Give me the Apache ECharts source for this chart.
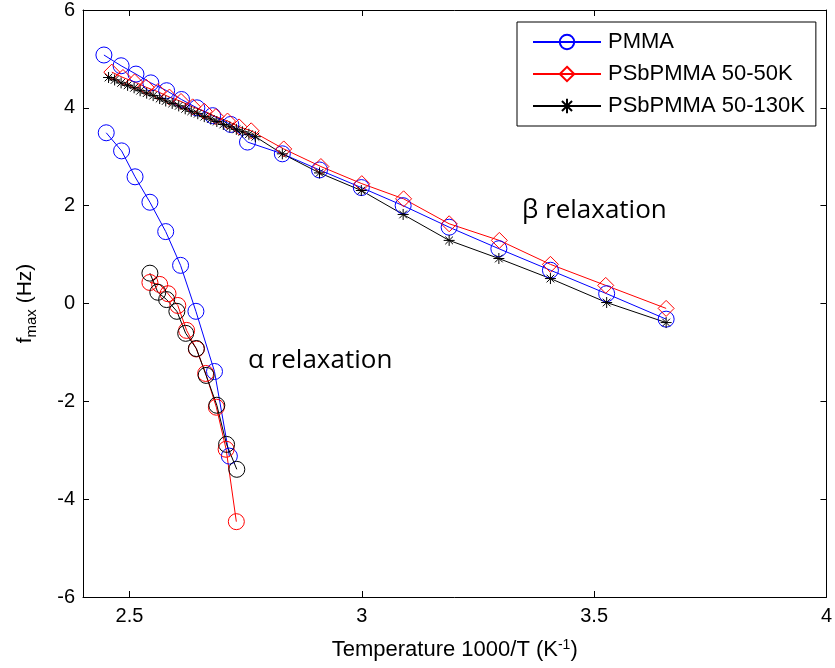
<!DOCTYPE html>
<html>
<head>
<meta charset="utf-8">
<script src="https://cdn.jsdelivr.net/npm/echarts@6/dist/echarts.min.js"></script>
<style>html,body{margin:0;padding:0;background:#fff;}#c{width:835px;height:668px;}</style>
</head>
<body>
<div id="c"></div>
<script>
// ---- data ----
const pmmaBetaX = [2.445, 2.482, 2.514, 2.546, 2.580, 2.612, 2.645, 2.679, 2.718, 2.754, 2.829, 2.909, 2.999, 3.089, 3.188, 3.295, 3.406, 3.527, 3.655];
const pmmaBetaY = [5.08, 4.86, 4.69, 4.51, 4.35, 4.17, 4.00, 3.84, 3.66, 3.30, 3.06, 2.73, 2.37, 2.00, 1.56, 1.12, 0.68, 0.20, -0.32];

const ps50BetaX = [2.462, 2.486, 2.511, 2.536, 2.561, 2.586, 2.611, 2.636, 2.661, 2.686, 2.711, 2.736, 2.762, 2.832, 2.912, 3.000, 3.090, 3.188, 3.296, 3.406, 3.525, 3.655];
const ps50BetaY = [4.73, 4.62, 4.53, 4.42, 4.33, 4.22, 4.13, 4.02, 3.93, 3.82, 3.73, 3.61, 3.53, 3.16, 2.80, 2.45, 2.14, 1.63, 1.29, 0.80, 0.37, -0.10];

const ps130BetaX = [2.455, 2.468, 2.482, 2.496, 2.510, 2.523, 2.537, 2.551, 2.565, 2.578, 2.592, 2.606, 2.620, 2.633, 2.647, 2.661, 2.675, 2.688, 2.702, 2.716, 2.730, 2.743, 2.757, 2.771, 2.829, 2.909, 2.999, 3.089, 3.188, 3.295, 3.406, 3.527, 3.655];
const ps130BetaY = [4.62, 4.57, 4.51, 4.46, 4.41, 4.35, 4.30, 4.25, 4.19, 4.14, 4.09, 4.04, 3.98, 3.93, 3.88, 3.82, 3.77, 3.72, 3.66, 3.61, 3.56, 3.51, 3.46, 3.41, 3.06, 2.67, 2.31, 1.82, 1.29, 0.92, 0.51, 0.02, -0.39];

const pmmaAlphaX = [2.450, 2.483, 2.512, 2.544, 2.578, 2.610, 2.643, 2.683, 2.715];
const pmmaAlphaY = [3.49, 3.12, 2.59, 2.07, 1.47, 0.78, -0.16, -1.39, -3.12];

const ps50AlphaX = [2.544, 2.565, 2.583, 2.604, 2.623, 2.644, 2.664, 2.687, 2.708, 2.730];
const ps50AlphaY = [0.43, 0.39, 0.20, -0.04, -0.55, -0.93, -1.43, -2.12, -2.98, -4.46];

const ps130AlphaX = [2.544, 2.561, 2.580, 2.602, 2.621, 2.644, 2.665, 2.688, 2.709, 2.731];
const ps130AlphaY = [0.62, 0.23, 0.08, -0.16, -0.61, -0.92, -1.47, -2.08, -2.88, -3.39];

const xTicks = [2.5, 3, 3.5, 4];
const yTicks = [-6, -4, -2, 0, 2, 4, 6];
const seriesNames = ['PMMA', 'PSbPMMA 50-50K', 'PSbPMMA 50-130K'];

// ---- helpers ----
const zip = (xs, ys) => xs.map((x, i) => [x, ys[i]]);
const STAR = 'path://M0,-10L0,10M-10,0L10,0M-7,-7L7,7M-7,7L7,-7';
const FONT = 'Liberation Sans';

function line(name, xs, ys, color, symbol, size) {
  return {
    type: 'line', name: name, data: zip(xs, ys),
    symbol: symbol, symbolSize: size, showSymbol: true,
    lineStyle: { color: color, width: 1 },
    itemStyle: { color: symbol === STAR ? color : 'rgba(255,255,255,0)', borderColor: color, borderWidth: 1 },
    emphasis: { disabled: true },
    animation: false, z: 3
  };
}

const chart = echarts.init(document.getElementById('c'), null, { renderer: 'canvas' });
const axisCommon = {
  axisLine: { show: true, onZero: false, lineStyle: { color: '#000', width: 1 } },
  splitLine: { show: false }
};
chart.setOption({
  animation: false,
  backgroundColor: '#fff',
  grid: { left: 83, right: 7, top: 10, bottom: 71 },
  textStyle: { fontFamily: FONT },
  xAxis: [
    Object.assign({
      type: 'value', min: 2.4, max: 4, position: 'bottom',
      name: 'Temperature 1000/T (K{sup|-1})', nameLocation: 'middle', nameGap: 41,
      nameTextStyle: { fontFamily: FONT, fontSize: 22, color: '#000', rich: { sup: { fontSize: 14, verticalAlign: 'top', padding: [0, 0, 9, 0], color: '#000', fontFamily: FONT } } },
      axisTick: { show: true, inside: true, length: 6, lineStyle: { color: '#000' }, customValues: xTicks },
      axisLabel: { show: true, color: '#000', fontSize: 20, fontFamily: FONT, margin: 9, customValues: xTicks }
    }, axisCommon),
    Object.assign({
      type: 'value', min: 2.4, max: 4, position: 'top',
      axisTick: { show: true, inside: true, length: 6, lineStyle: { color: '#000' }, customValues: xTicks },
      axisLabel: { show: false, customValues: xTicks }
    }, axisCommon)
  ],
  yAxis: [
    Object.assign({
      type: 'value', min: -6, max: 6, interval: 2, position: 'left',
      name: '{f|f}{sub|max}{f| (Hz)}', nameLocation: 'middle', nameGap: 44,
      nameTextStyle: { rich: {
        f: { fontSize: 21, fontFamily: FONT, color: '#000' },
        sub: { fontSize: 15, fontFamily: FONT, color: '#000', padding: [13, 0, 0, 0] }
      } },
      axisTick: { show: true, inside: true, length: 6, lineStyle: { color: '#000' } },
      axisLabel: { color: '#000', fontSize: 20, fontFamily: FONT, margin: 8 }
    }, axisCommon),
    Object.assign({
      type: 'value', min: -6, max: 6, interval: 2, position: 'right',
      axisTick: { show: true, inside: true, length: 6, lineStyle: { color: '#000' } },
      axisLabel: { show: false }
    }, axisCommon)
  ],
  legend: {
    data: seriesNames, orient: 'vertical', left: 517, top: 22,
    backgroundColor: '#fff', borderColor: '#000', borderWidth: 1,
    padding: [9, 11, 9, 15], itemGap: 10, itemWidth: 68, itemHeight: 18,
    textStyle: { fontSize: 22, fontFamily: FONT, color: '#000', padding: [0, 0, 0, 2] },
    selectedMode: false
  },
  graphic: [
    { type: 'text', left: 522, top: 198, style: { text: 'β relaxation', font: '26px "Open Sans"', fill: '#000' } },
    { type: 'text', left: 248, top: 348, style: { text: 'α relaxation', font: '26px "Open Sans"', fill: '#000' } }
  ],
  series: [
    line(seriesNames[0], pmmaBetaX, pmmaBetaY, '#0000ff', 'circle', 16),
    line(seriesNames[1], ps50BetaX, ps50BetaY, '#ff0000', 'diamond', 16),
    line(seriesNames[2], ps130BetaX, ps130BetaY, '#000000', STAR, 11),
    line('PMMA α', pmmaAlphaX, pmmaAlphaY, '#0000ff', 'circle', 16),
    line('PSbPMMA 50-50K α', ps50AlphaX, ps50AlphaY, '#ff0000', 'circle', 16),
    line('PSbPMMA 50-130K α', ps130AlphaX, ps130AlphaY, '#000000', 'circle', 16)
  ]
});
</script>
</body>
</html>
